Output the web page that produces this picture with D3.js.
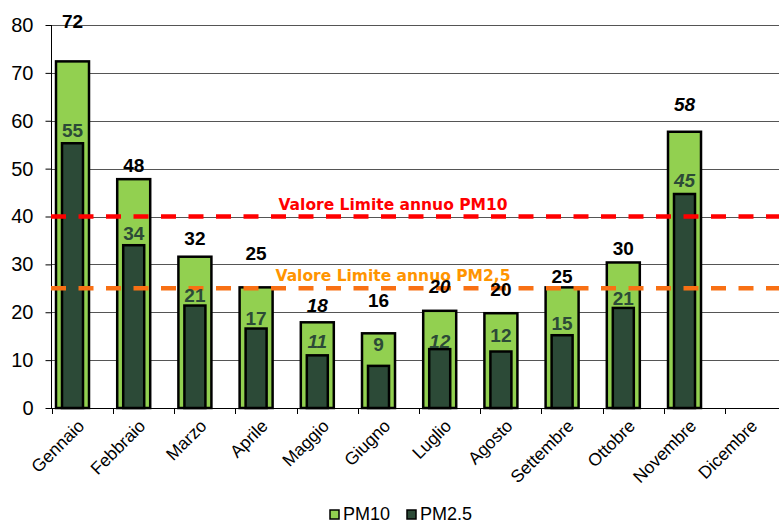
<!DOCTYPE html>
<html>
<head>
<meta charset="utf-8">
<script src="https://cdn.jsdelivr.net/npm/d3@7"></script>
<style>
  body { margin: 0; background: #fff; }
  svg { display: block; font-family: "Liberation Sans", Arial, sans-serif; }
</style>
</head>
<body>
<svg id="chart" width="779" height="522"></svg>
<script>
// Dati
const mesi = ["Gennaio", "Febbraio", "Marzo", "Aprile", "Maggio", "Giugno",
  "Luglio", "Agosto", "Settembre", "Ottobre", "Novembre", "Dicembre"];
const pm10 = [72.4, 47.8, 31.6, 25.2, 17.9, 15.6, 20.3, 19.8, 25.2, 30.4, 57.7, null];
const pm25 = [55.3, 34.0, 21.4, 16.6, 11.0, 8.8, 12.3, 11.8, 15.2, 20.9, 44.7, null];
// mesi con dati stimati (etichette in corsivo)
const stimati = [false, false, false, false, true, false, true, false, false, false, true, false];
const yTicks = [0, 10, 20, 30, 40, 50, 60, 70, 80];
const limiti = [40, 25];
const limitiEtichette = ["Valore Limite annuo PM10", "Valore Limite annuo PM2,5"];
const serie = ["PM10", "PM2.5"];

// Stile
const coloreSerie = ["#92D050", "#2C4A37"];
const coloreLimiti = ["#FF0000", "#F87014"];
const coloreTestoLimiti = ["#FF0000", "#FF9400"];
// spostamenti manuali delle etichette (px sopra la barra)
const gap10 = [33, 7, 12, 27, 10, 26, 18, 17, 4, 7, 21, 0];
const gap25 = [6, 5, 4, 4, 7, 15, 1, 10, 5, 3, 7, 0];

const svg = d3.select("#chart");

const x = d3.scaleBand().domain(mesi).range([51.7, 51.7 + 12 * 61.2]).padding(0);
const y = d3.scaleLinear().domain([0, 80]).range([408, 25]);
const bw = x.bandwidth();
const centro = (m) => x(m) + bw * 0.34;

// Griglia orizzontale
svg.append("g")
  .selectAll("line")
  .data(yTicks.filter((d) => d > 0))
  .enter()
  .append("line")
  .attr("x1", 51)
  .attr("x2", 779)
  .attr("y1", (d) => Math.round(y(d)) + 0.5)
  .attr("y2", (d) => Math.round(y(d)) + 0.5)
  .attr("stroke", "#555")
  .attr("stroke-width", 1);

// Asse Y
const yAxis = svg.append("g")
  .attr("transform", "translate(51.5,0)")
  .call(d3.axisLeft(y).tickValues(yTicks).tickSize(6).tickPadding(12).tickFormat(d3.format("d")));
yAxis.select(".domain").attr("stroke", "#000").attr("d", `M0,${y(80)}V${y(0)}`);
yAxis.selectAll(".tick line").attr("stroke", "#000");
yAxis.selectAll(".tick text")
  .attr("font-size", 20)
  .attr("font-family", "Liberation Sans, Arial, sans-serif")
  .attr("fill", "#000");

// Barre PM10
svg.append("g")
  .selectAll("rect")
  .data(mesi.map((m, i) => ({ m, v: pm10[i] })).filter((d) => d.v != null))
  .enter()
  .append("rect")
  .attr("x", (d) => centro(d.m) - 16.5)
  .attr("width", 33)
  .attr("y", (d) => y(d.v))
  .attr("height", (d) => y(0) - y(d.v))
  .attr("fill", coloreSerie[0])
  .attr("stroke", "#000")
  .attr("stroke-width", 2.5);

// Barre PM2.5
svg.append("g")
  .selectAll("rect")
  .data(mesi.map((m, i) => ({ m, v: pm25[i] })).filter((d) => d.v != null))
  .enter()
  .append("rect")
  .attr("x", (d) => centro(d.m) - 10.5)
  .attr("width", 21)
  .attr("y", (d) => y(d.v))
  .attr("height", (d) => y(0) - y(d.v))
  .attr("fill", coloreSerie[1])
  .attr("stroke", "#000")
  .attr("stroke-width", 2.5);

// Asse X
svg.append("line")
  .attr("x1", 51).attr("x2", 779)
  .attr("y1", 408.5).attr("y2", 408.5)
  .attr("stroke", "#000");
svg.append("g")
  .selectAll("line")
  .data(mesi)
  .enter()
  .append("line")
  .attr("x1", (d) => Math.round(x(d)) + 0.5)
  .attr("x2", (d) => Math.round(x(d)) + 0.5)
  .attr("y1", 408)
  .attr("y2", 414)
  .attr("stroke", "#000");
svg.append("g")
  .selectAll("text")
  .data(mesi)
  .enter()
  .append("text")
  .attr("transform", (d) => `translate(${x(d) + bw / 2 + 3},427) rotate(-45)`)
  .attr("text-anchor", "end")
  .attr("font-size", 17.5)
  .attr("fill", "#000")
  .text((d) => d);

// Linee dei valori limite
limiti.forEach((v, i) => {
  svg.append("line")
    .attr("x1", 51).attr("x2", 779)
    .attr("y1", y(v)).attr("y2", y(v))
    .attr("stroke", coloreLimiti[i])
    .attr("stroke-width", 4.5)
    .attr("stroke-dasharray", "15,12.5");
  svg.append("text")
    .attr("x", 393)
    .attr("y", y(v) - 7)
    .attr("text-anchor", "middle")
    .attr("font-family", "DejaVu Sans, Verdana, sans-serif")
    .attr("font-weight", "bold")
    .attr("font-size", 15.5)
    .attr("fill", coloreTestoLimiti[i])
    .text(limitiEtichette[i]);
});

// Etichette dei valori
mesi.forEach((m, i) => {
  if (pm10[i] != null) {
    svg.append("text")
      .attr("x", centro(m))
      .attr("y", y(pm10[i]) - gap10[i])
      .attr("text-anchor", "middle")
      .attr("font-weight", "bold")
      .attr("font-style", stimati[i] ? "italic" : "normal")
      .attr("font-size", 19)
      .attr("fill", "#000")
      .text(Math.round(pm10[i]));
  }
  if (pm25[i] != null) {
    svg.append("text")
      .attr("x", centro(m))
      .attr("y", y(pm25[i]) - gap25[i])
      .attr("text-anchor", "middle")
      .attr("font-weight", "bold")
      .attr("font-style", stimati[i] ? "italic" : "normal")
      .attr("font-size", 19)
      .attr("fill", coloreSerie[1])
      .text(Math.round(pm25[i]));
  }
});

// Legenda
const leg = svg.append("g").attr("transform", "translate(330,510)");
const legX = [0, 77];
serie.forEach((s, i) => {
  leg.append("rect")
    .attr("x", legX[i]).attr("y", 0)
    .attr("width", 9).attr("height", 9)
    .attr("fill", coloreSerie[i])
    .attr("stroke", "#000")
    .attr("stroke-width", 1.5);
  leg.append("text")
    .attr("x", legX[i] + 13)
    .attr("y", 10)
    .attr("font-size", 18)
    .attr("fill", "#000")
    .text(s);
});
</script>
</body>
</html>
